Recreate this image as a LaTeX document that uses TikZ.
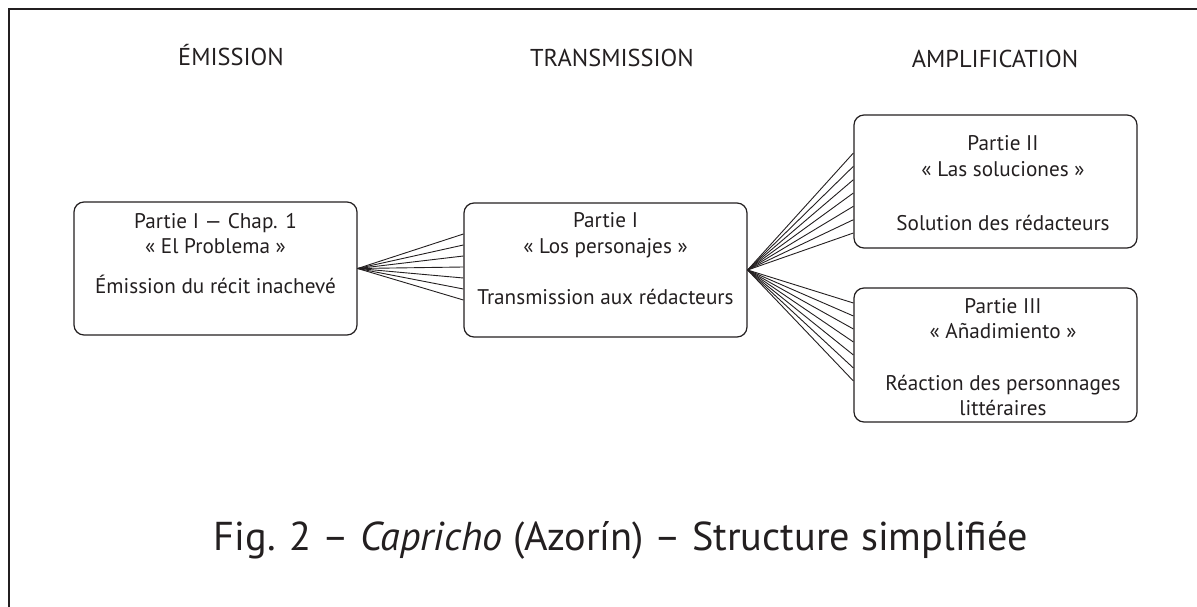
\documentclass[tikz,border=0pt]{standalone}
\usepackage{fontspec}
\setmainfont{PT Sans}
\definecolor{ink}{HTML}{231F20}
\begin{document}
\begin{tikzpicture}[x=1pt,y=-1pt,
  box/.style={draw=ink, line width=1.2pt, rounded corners=10pt, minimum width=283pt, minimum height=133pt, inner sep=0pt},
  txt/.style={anchor=base, inner sep=0pt, text=ink, font=\fontsize{21.2}{25}\selectfont},
  head/.style={anchor=base, inner sep=0pt, text=ink, font=\fontsize{24.4}{28}\selectfont},
  captext/.style={anchor=base, inner sep=0pt, text=ink, font=\fontsize{40.3}{46}\selectfont},
  fan/.style={draw=ink, line width=0.9pt},
  frame/.style={draw=ink, line width=1.5pt}]
\useasboundingbox (0,0) rectangle (1197,607);
% frame
\coordinate (fbl) at (9,607);
\coordinate (ftl) at (9,9);
\coordinate (ftr) at (1197,9);
\draw[frame] (fbl) -- (ftl) -- (ftr);
% headers
\node[head] (h1) at (231,66) {ÉMISSION};
\node[head] (h2) at (612,67) {TRANSMISSION};
\node[head] (h3) at (995,68) {AMPLIFICATION};
% boxes
\node[box] (b1) at (215.5,268.5) {};
\node[box, minimum height=134pt] (b2) at (605.5,270) {};
\node[box] (b3) at (995.5,181.5) {};
\node[box, minimum height=134pt] (b4) at (995.5,355) {};
% box texts
\node[txt] (b1a) at (215.5,228) {Partie I — Chap. 1};
\node[txt] (b1b) at (215.5,253) {« El Problema »};
\node[txt] (b1c) at (215.5,293) {Émission du récit inachevé};
\node[txt] (b2a) at (605.5,227) {Partie I};
\node[txt] (b2b) at (605.5,253) {« Los personajes »};
\node[txt] (b2c) at (605.5,304) {Transmission aux rédacteurs};
\node[txt] (b3a) at (1003,150) {Partie II};
\node[txt] (b3b) at (1003,177) {« Las soluciones »};
\node[txt] (b3c) at (1003,230) {Solution des rédacteurs};
\node[txt] (b4a) at (1003,313) {Partie III};
\node[txt] (b4b) at (1003,338) {« Añadimiento »};
\node[txt] (b4c) at (1003,390) {Réaction des personnages};
\node[txt] (b4d) at (1003,415) {littéraires};
% fans
\foreach \y in {234,245,256,267,278,289,300}
  \draw[fan] (b1.east) -- (b2.west |- 0,\y);
\foreach \y in {153,166.3,179.7,193,206.3,219.7,233}
  \draw[fan] (b2.east) -- (b3.west |- 0,\y);
\foreach \y in {303,316,329,342,355,368,381}
  \draw[fan] (b2.east) -- (b4.west |- 0,\y);
% caption
\node[captext] (caption) at (621,550) {Fig. 2 – \textit{Capricho} (Azorín) – Structure simplifiée};
\end{tikzpicture}
\end{document}
